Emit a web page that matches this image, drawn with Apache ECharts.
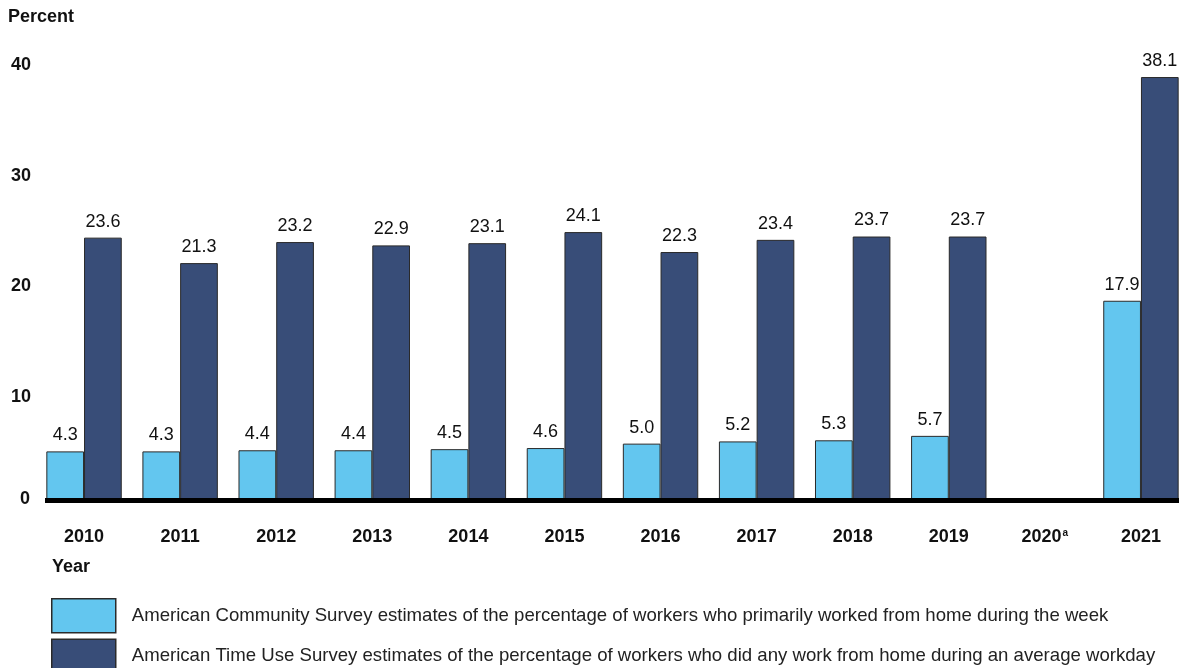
<!DOCTYPE html>
<html>
<head>
<meta charset="utf-8">
<script src="https://cdn.jsdelivr.net/npm/echarts@6/dist/echarts.min.js"></script>
<style>
  html, body { margin: 0; padding: 0; background: #fff; overflow: hidden; }
  #chart { width: 1200px; height: 720px; }
</style>
</head>
<body>
<div id="chart"></div>
<script>
// Work-from-home estimates by year
const years = ['2010', '2011', '2012', '2013', '2014', '2015', '2016', '2017', '2018', '2019', '2020', '2021'];
const acsValues = [4.3, 4.3, 4.4, 4.4, 4.5, 4.6, 5.0, 5.2, 5.3, 5.7, null, 17.9];
const atusValues = [23.6, 21.3, 23.2, 22.9, 23.1, 24.1, 22.3, 23.4, 23.7, 23.7, null, 38.1];
const yTicks = [0, 10, 20, 30, 40];
const seriesNames = [
  'American Community Survey estimates of the percentage of workers who primarily worked from home during the week',
  'American Time Use Survey estimates of the percentage of workers who did any work from home during an average workday'
];
const footnoteYear = '2020';

const FONT = '"Liberation Sans", Arial, sans-serif';
const LIGHT = '#63C6EF';
const DARK = '#384D78';

const chart = echarts.init(document.getElementById('chart'), null, { renderer: 'canvas' });

const barLabel = {
  show: true,
  position: 'top',
  distance: 7,
  fontFamily: FONT,
  fontSize: 18,
  color: '#111',
  formatter: p => (p.value == null ? '' : p.value.toFixed(1))
};

const yBase = {
  type: 'value',
  min: yTicks[0],
  max: yTicks[yTicks.length - 1],
  interval: 10,
  position: 'left',
  axisLine: { show: false },
  axisTick: { show: false },
  splitLine: { show: false }
};

chart.setOption({
  animation: false,
  textStyle: { fontFamily: FONT },
  grid: { left: 36, top: 56, width: 1153, height: 443, containLabel: false },
  xAxis: {
    type: 'category',
    data: years,
    axisLine: { show: false },
    axisTick: { show: false },
    axisLabel: {
      interval: 0,
      margin: 29,
      fontFamily: FONT,
      fontSize: 18,
      fontWeight: 'bold',
      color: '#111',
      formatter: v => (v === footnoteYear ? '{y|' + v + '}{s|a}' : '{y|' + v + '}'),
      rich: {
        y: { fontFamily: FONT, fontSize: 18, fontWeight: 'bold', color: '#111' },
        s: { fontFamily: FONT, fontSize: 10, fontWeight: 'bold', color: '#111', padding: [0, 0, 8, 1] }
      }
    }
  },
  yAxis: [
    Object.assign({}, yBase, {
      axisLabel: {
        margin: 5,
        fontFamily: FONT,
        fontSize: 18,
        fontWeight: 'bold',
        color: '#111',
        verticalAlign: 'top',
        showMinLabel: false
      }
    }),
    Object.assign({}, yBase, {
      axisLabel: {
        margin: 6,
        fontFamily: FONT,
        fontSize: 18,
        fontWeight: 'bold',
        color: '#111',
        verticalAlign: 'middle',
        lineHeight: 22,
        padding: [0, 0, 4, 0],
        formatter: v => (v === yTicks[0] ? String(v) : '')
      }
    })
  ],
  legend: {
    orient: 'vertical',
    left: 51,
    top: 598,
    padding: 0,
    itemWidth: 64,
    itemHeight: 34,
    itemGap: 5,
    icon: 'rect',
    selectedMode: false,
    itemStyle: { borderColor: '#2a2a2a', borderWidth: 1.5 },
    textStyle: { fontFamily: FONT, fontSize: 18.6, color: '#222', padding: [0, 0, 0, 11] },
    data: seriesNames
  },
  series: [
    {
      name: seriesNames[0],
      type: 'bar',
      data: acsValues,
      barGap: '0%',
      barCategoryGap: '21.5%',
      itemStyle: { color: LIGHT, borderColor: '#2a2a2a', borderWidth: 1 },
      label: barLabel
    },
    {
      name: seriesNames[1],
      type: 'bar',
      data: atusValues,
      itemStyle: { color: DARK, borderColor: '#2a2a2a', borderWidth: 1 },
      label: barLabel
    }
  ]
});

// Baseline along zero plus the "Percent" and "Year" titles
const y0 = chart.convertToPixel({ yAxisIndex: 0 }, 0);
chart.setOption({
  graphic: [
    { type: 'rect', left: 45, top: y0 - 1, shape: { width: 1160, height: 5 }, style: { fill: '#000' }, z: 10 },
    { type: 'text', left: 8, top: 8, style: { text: 'Percent', font: 'bold 18px ' + FONT, fill: '#111' } },
    { type: 'text', left: 52, top: 558, style: { text: 'Year', font: 'bold 18px ' + FONT, fill: '#111' } }
  ]
});
</script>
</body>
</html>
